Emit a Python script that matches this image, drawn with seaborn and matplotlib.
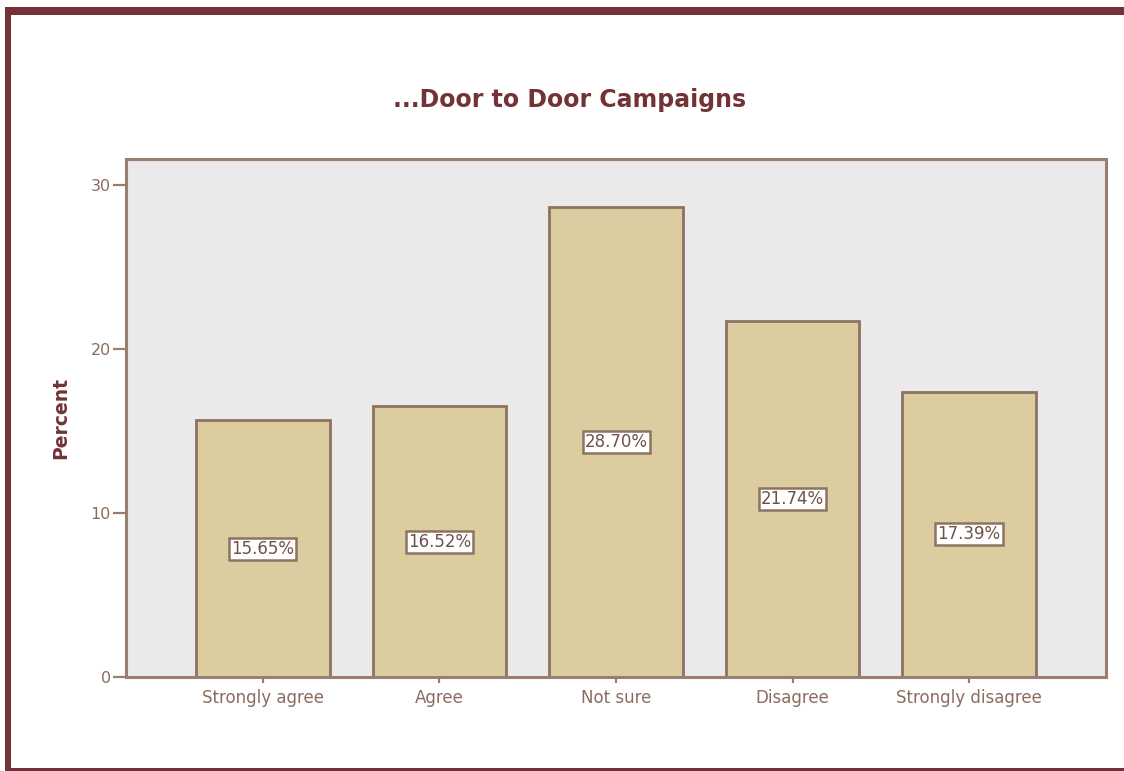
import matplotlib
matplotlib.use("Agg")
import matplotlib.pyplot as plt
from matplotlib.patches import Rectangle
import seaborn as sns
import pandas as pd

# Survey responses for door-to-door campaigns (percent of respondents)
categories = ["Strongly agree", "Agree", "Not sure", "Disagree", "Strongly disagree"]
percents = [15.65, 16.52, 28.70, 21.74, 17.39]
y_ticks = [0, 10, 20, 30]

title_text = "...Door to Door Campaigns"
y_label = "Percent"

df = pd.DataFrame({"response": categories, "percent": percents})

FRAME = "#733336"
SPINE = "#9A7F70"
TICKTXT = "#8A6D5F"
BAR_FILL = "#DCCDA0"
BAR_EDGE = "#8D7362"
PANEL = "#EBE9E9"

sns.set_theme(style="white")
plt.rcParams["font.family"] = ["DejaVu Sans"]

W, H = 1124, 771
fig = plt.figure(figsize=(W / 100, H / 100), dpi=100)
fig.patch.set_facecolor("white")

# axes placed in pixel terms
left, right, top, bottom = 126, 1106, 159, 677
ax = fig.add_axes([left / W, 1 - bottom / H, (right - left) / W, (bottom - top) / H])
ax.set_facecolor(PANEL)

sns.barplot(data=df, x="response", y="percent", color=BAR_FILL, saturation=1,
            edgecolor=BAR_EDGE, linewidth=2, width=0.754, ax=ax)

ax.set_xlim(-0.776, 4.776)
ax.set_ylim(0, 31.6)
ax.set_yticks(y_ticks)
ax.set_yticklabels([str(t) for t in y_ticks])

for s in ax.spines.values():
    s.set_visible(True)
    s.set_color(SPINE)
    s.set_linewidth(2.2)

ax.tick_params(axis="y", direction="out", length=9.5, width=1.6, color=SPINE,
               labelsize=11.5, labelcolor=TICKTXT, pad=1.5, left=True)
ax.tick_params(axis="x", direction="out", length=4.5, width=1.6, color=SPINE,
               labelsize=12, labelcolor=TICKTXT, pad=4, bottom=True)

ax.set_xlabel("")
ax.set_ylabel(y_label, fontsize=13.5, fontweight="bold", color=FRAME)
ax.yaxis.set_label_coords(-0.057, 0.5)

# value labels centred in each bar
ax.bar_label(ax.containers[0], labels=[f"{v:.2f}%" for v in percents],
             label_type="center", fontsize=12, color="#6E5148",
             bbox=dict(boxstyle="square,pad=0.12", facecolor="white",
                       edgecolor=BAR_EDGE, linewidth=1.8))

fig.text(570 / W, 1 - 100 / H, title_text, ha="center", va="center",
         fontsize=17, fontweight="bold", color=FRAME)

# outer frame (left, top, bottom edges)
fig.patches.append(Rectangle((5 / W, 0), 6 / W, 1 - 7 / H, transform=fig.transFigure,
                             facecolor=FRAME, edgecolor="none", zorder=10))
fig.patches.append(Rectangle((5 / W, 1 - 15 / H), 1, 8 / H, transform=fig.transFigure,
                             facecolor=FRAME, edgecolor="none", zorder=10))
fig.patches.append(Rectangle((5 / W, 0), 1, 3.5 / H, transform=fig.transFigure,
                             facecolor=FRAME, edgecolor="none", zorder=10))

fig.savefig("out.png", dpi=100)
